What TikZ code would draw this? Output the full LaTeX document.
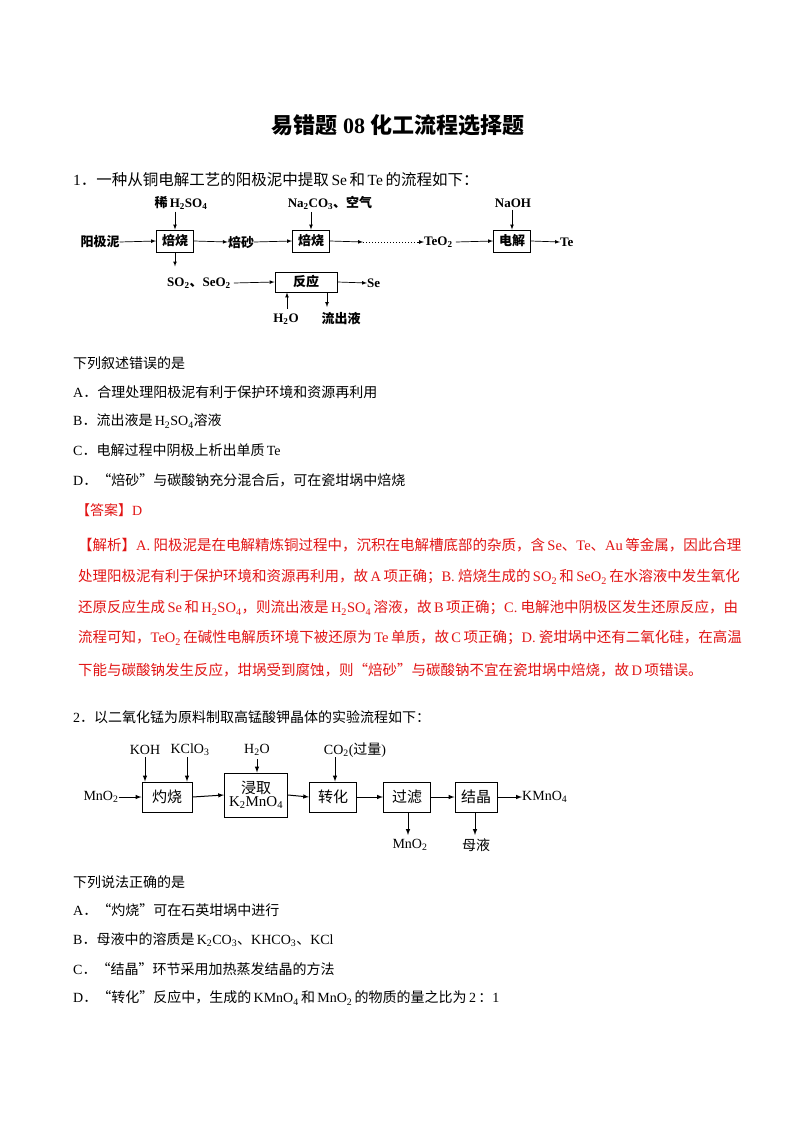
\documentclass[tikz,border=0pt]{standalone}
\usepackage{fontspec}
\setmainfont{Liberation Serif}
\newfontfamily\cjk{Noto Sans CJK SC}
\newcommand\la[1]{{\rmfamily #1}}
\newcommand\sbx[1]{\textsubscript{#1}}
\definecolor{ansred}{RGB}{225,20,20}
\begin{document}
\begin{tikzpicture}[x=1pt,y=-1pt,
  txt/.style={anchor=west,inner sep=0,font=\cjk\fontsize{14}{14}\selectfont},
  red/.style={anchor=west,inner sep=0,text=ansred,font=\cjk\fontsize{14.5}{14.5}\selectfont},
  bx/.style={draw,line width=0.9pt,inner sep=0,font=\cjk\bfseries\fontsize{13}{13}\selectfont},
  lb/.style={inner sep=0,font=\bfseries\fontsize{13}{13}\selectfont},
  ar/.style={-latex,line width=0.7pt},
  bx2/.style={draw,line width=1pt,inner sep=0,font=\cjk\fontsize{15}{15}\selectfont},
  lb2/.style={inner sep=0,font=\fontsize{14}{14}\selectfont},
  ar2/.style={-latex,line width=1pt}]
\useasboundingbox (0,0) rectangle (800,1132);
\node[inner sep=0,font=\cjk\bfseries\fontsize{22}{22}\selectfont] (title) at (398,125) {易错题 \la{\bfseries 08} 化工流程选择题};
\node[txt,font=\cjk\fontsize{15.5}{15.5}\selectfont] (q1) at (73,180) {\la{1}．一种从铜电解工艺的阳极泥中提取\,\la{Se}\,和\,\la{Te}\,的流程如下：};
% diagram 1
\node[lb,font=\cjk\bfseries\fontsize{13}{13}\selectfont] (y1) at (100,242) {阳极泥};
\node[bx,minimum width=37pt,minimum height=22pt] (b1) at (175,241) {焙烧};
\node[lb,font=\cjk\bfseries\fontsize{13}{13}\selectfont] (bs) at (241,242) {焙砂};
\node[bx,minimum width=37pt,minimum height=22pt] (b2) at (311,241) {焙烧};
\coordinate (d1) at (363,242);
\coordinate (d2) at (418,242);
\node[lb,anchor=west] (teo) at (424,242) {TeO\sbx{2}};
\node[bx,minimum width=37pt,minimum height=22pt] (b3) at (512,241) {电解};
\node[lb,anchor=west] (te) at (560,242) {Te};
\node[lb] (h2so4) at (181,203) {{\cjk\bfseries 稀}\,H\sbx{2}SO\sbx{4}};
\node[lb] (na) at (330,203) {Na\sbx{2}CO\sbx{3}{\cjk\bfseries 、空气}};
\node[lb] (naoh) at (513,203) {NaOH};
\node[lb,anchor=west] (so2) at (167,283) {SO\sbx{2}{\cjk\bfseries 、}SeO\sbx{2}};
\node[bx,minimum width=62pt,minimum height=20pt] (b4) at (306,282) {反应};
\node[lb,anchor=west] (se) at (367,283) {Se};
\node[lb] (h2o) at (286,319) {H\sbx{2}O};
\node[lb,font=\cjk\bfseries\fontsize{13}{13}\selectfont] (lcy) at (341,319) {流出液};
\coordinate (p1) at (287,309);
\coordinate (p2) at (327,307);
\draw[ar] (y1.east) -- (b1.west);
\draw[ar] (b1.east) -- (bs.west);
\draw[ar] (bs.east) -- (b2.west);
\draw[ar] (b2.east) -- (d1);
\draw[dotted,line width=1pt] (d1) -- (d2);
\draw[ar] (d2) -- (teo.west);
\draw[ar] (teo.east) ++(3,0) -- (b3.west);
\draw[ar] (b3.east) -- (te.west);
\draw[ar] (b1.north|-h2so4.south) ++(0,2) -- (b1.north);
\draw[ar] (b2.north|-na.south) ++(0,2) -- (b2.north);
\draw[ar] (b3.north|-naoh.south) ++(0,2) -- (b3.north);
\draw[ar] (b1.south) -- ++(0,14);
\draw[ar] (so2.east) ++(3,0) -- (b4.west);
\draw[ar] (b4.east) -- (se.west);
\draw[ar] (p1) -- (p1|-b4.south);
\draw[ar] (p2|-b4.south) -- (p2);
\node[txt] at (73,363) {下列叙述错误的是};
\node[txt] at (73,392) {\la{A}．合理处理阳极泥有利于保护环境和资源再利用};
\node[txt] at (73,421) {\la{B}．流出液是\,\la{H\sbx{2}SO\sbx{4}}溶液};
\node[txt] at (73,450) {\la{C}．电解过程中阴极上析出单质\,\la{Te}};
\node[txt] at (73,480) {\la{D}．“焙砂”与碳酸钠充分混合后，可在瓷坩埚中焙烧};
\node[txt,text=ansred] at (76,510) {【答案】\la{D}};
\node[red] at (78,545) {【解析】\la{A.} 阳极泥是在电解精炼铜过程中，沉积在电解槽底部的杂质，含\,\la{Se}、\la{Te}、\la{Au}\,等金属，因此合理};
\node[red] at (78,577) {处理阳极泥有利于保护环境和资源再利用，故\,\la{A}\,项正确；\la{B.} 焙烧生成的\,\la{SO\sbx{2}}\,和\,\la{SeO\sbx{2}}\,在水溶液中发生氧化};
\node[red] at (78,608) {还原反应生成\,\la{Se}\,和\,\la{H\sbx{2}SO\sbx{4}}，则流出液是\,\la{H\sbx{2}SO\sbx{4}}\,溶液，故\,\la{B}\,项正确；\la{C.} 电解池中阴极区发生还原反应，由};
\node[red] at (78,638) {流程可知，\la{TeO\sbx{2}}\,在碱性电解质环境下被还原为\,\la{Te}\,单质，故\,\la{C}\,项正确；\la{D.} 瓷坩埚中还有二氧化硅，在高温};
\node[red] at (78,670) {下能与碳酸钠发生反应，坩埚受到腐蚀，则“焙砂”与碳酸钠不宜在瓷坩埚中焙烧，故\,\la{D}\,项错误。};
\node[txt] (q2) at (73,717) {\la{2}．以二氧化锰为原料制取高锰酸钾晶体的实验流程如下：};
% diagram 2
\node[lb2] (mn) at (101,797) {MnO\sbx{2}};
\node[bx2,minimum width=50pt,minimum height=30pt] (c1) at (167,797) {灼烧};
\node[bx2,minimum width=63pt,minimum height=44pt,align=center] (c2) at (256,795) {浸取\\[-2pt]\la{K\sbx{2}MnO\sbx{4}}};
\node[bx2,minimum width=47pt,minimum height=30pt] (c3) at (333,797) {转化};
\node[bx2,minimum width=47pt,minimum height=30pt] (c4) at (407,797) {过滤};
\node[bx2,minimum width=42pt,minimum height=30pt] (c5) at (476,797) {结晶};
\node[lb2,anchor=west] (kmn) at (522,797) {KMnO\sbx{4}};
\node[lb2] (koh) at (145,750) {KOH};
\node[lb2] (kcl) at (190,750) {KClO\sbx{3}};
\node[lb2] (h2o2) at (257,750) {H\sbx{2}O};
\node[lb2] (co2) at (355,750) {CO\sbx{2}({\cjk 过量})};
\node[lb2] (mn2) at (410,845) {MnO\sbx{2}};
\node[lb2,font=\cjk\fontsize{14}{14}\selectfont] (my) at (476,845) {母液};
\coordinate (q1a) at (145,757);
\coordinate (q1b) at (187,757);
\coordinate (q2a) at (257,759);
\coordinate (q3a) at (335,757);
\coordinate (q4a) at (408,835);
\coordinate (q5a) at (475,835);
\draw[ar2] (mn.east) -- (c1.west);
\draw[ar2] (c1.east) -- (c2.west);
\draw[ar2] (c2.east) -- (c3.west);
\draw[ar2] (c3.east) -- (c4.west);
\draw[ar2] (c4.east) -- (c5.west);
\draw[ar2] (c5.east) -- (kmn.west);
\draw[ar2] (q1a) -- (q1a|-c1.north);
\draw[ar2] (q1b) -- (q1b|-c1.north);
\draw[ar2] (q2a) -- (q2a|-c2.north);
\draw[ar2] (q3a) -- (q3a|-c3.north);
\draw[ar2] (q4a|-c4.south) -- (q4a);
\draw[ar2] (q5a|-c5.south) -- (q5a);
\node[txt] at (73,882) {下列说法正确的是};
\node[txt] at (73,910) {\la{A}．“灼烧”可在石英坩埚中进行};
\node[txt] at (73,940) {\la{B}．母液中的溶质是\,\la{K\sbx{2}CO\sbx{3}}、\la{KHCO\sbx{3}}、\la{KCl}};
\node[txt] at (73,969) {\la{C}．“结晶”环节采用加热蒸发结晶的方法};
\node[txt] at (73,998) {\la{D}．“转化”反应中，生成的\,\la{KMnO\sbx{4}}\,和\,\la{MnO\sbx{2}}\,的物质的量之比为\,\la{2}\,：\la{1}};
\end{tikzpicture}
\end{document}
